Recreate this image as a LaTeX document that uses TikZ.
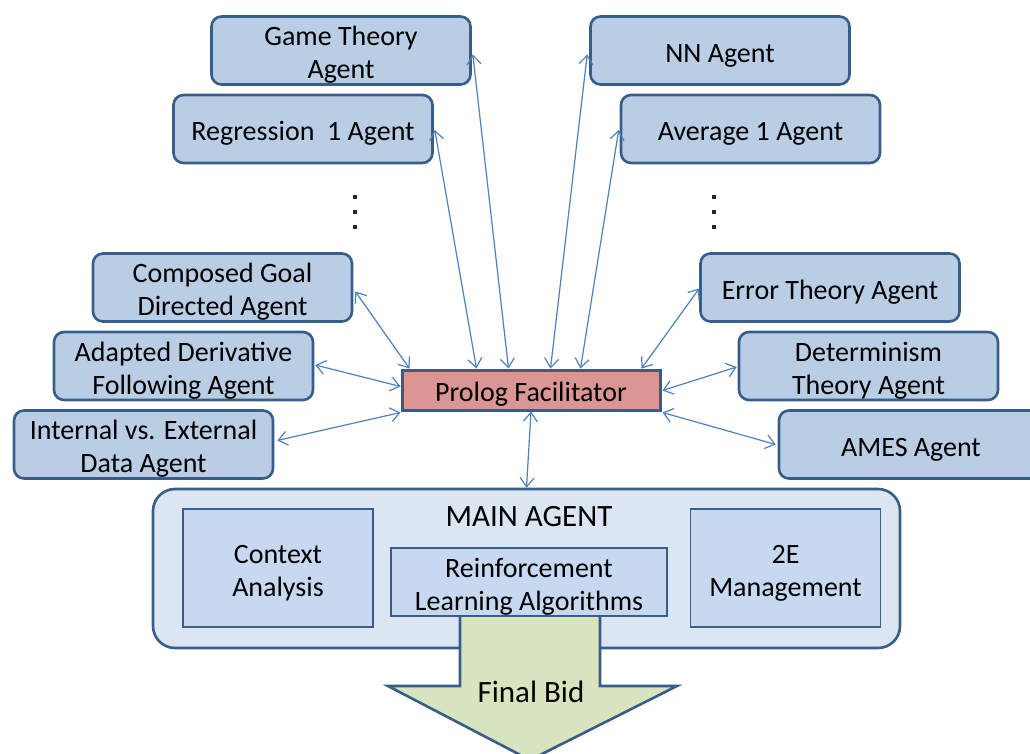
\documentclass[tikz,border=0pt]{standalone}
\usepackage{fontspec}
\setmainfont{Carlito}
\usetikzlibrary{arrows.meta,calc,positioning}
\definecolor{edgeblue}{RGB}{56,93,138}
\definecolor{agentfill}{RGB}{185,205,229}
\definecolor{mainfill}{RGB}{220,230,242}
\definecolor{innerfill}{RGB}{198,217,241}
\definecolor{prologfill}{RGB}{217,150,148}
\definecolor{linkblue}{RGB}{79,129,189}
\definecolor{bidfill}{RGB}{215,228,189}
% centred block of lines, drawn a little below its nominal box
\newcommand{\boxtext}[1]{\raisebox{-5pt}[\height][\depth]{\begin{tabular}{@{}c@{}}#1\end{tabular}}}
\tikzset{
  agent/.style={draw=edgeblue, fill=agentfill, line width=2.6pt, rounded corners=10pt,
    minimum width=259pt, minimum height=68pt, inner sep=0pt,
    font=\fontsize{28}{33}\selectfont},
  inner/.style={draw=edgeblue, fill=innerfill, line width=1.6pt, inner sep=0pt,
    font=\fontsize{28}{33}\selectfont},
  biglabel/.style={font=\fontsize{31}{36}\selectfont, inner sep=0pt},
  link/.style={draw=linkblue, line width=1.2pt,
    {Straight Barb[length=9pt,width=14pt,line width=1.2pt]}-{Straight Barb[length=9pt,width=14pt,line width=1.2pt]}},
  dotmark/.style={fill=black!85, minimum size=3.2pt, inner sep=0pt, shape=rectangle}
}
\begin{document}
\begin{tikzpicture}[x=1pt,y=-1pt]
\clip (0,0) rectangle (1030,754);
\fill[white] (0,0) rectangle (1030,754);

% agents, left column
\node[agent] (game) at (341,50.5) {\boxtext{Game Theory\\Agent}};
\node[agent] (regr) at (303,129) {\boxtext{Regression\ \ 1 Agent}};
\node[agent] (comp) at (222.5,287.5) {\boxtext{Composed Goal\\Directed Agent}};
\node[agent] (adap) at (183.5,366) {\boxtext{Adapted Derivative\\Following Agent}};
\node[agent] (intl) at (143.5,444.5) {\boxtext{Internal vs. External\\Data Agent}};

% agents, right column
\node[agent] (nn)   at (720,50.5) {\boxtext{NN Agent}};
\node[agent] (avg)  at (750.5,129) {\boxtext{Average 1 Agent}};
\node[agent] (err)  at (830,287.5) {\boxtext{Error Theory Agent}};
\node[agent] (det)  at (868.5,366) {\boxtext{Determinism\\Theory Agent}};
\node[agent, minimum width=264pt] (ames) at (911,444.5) {\boxtext{AMES Agent}};

% vertical ellipses
\foreach \y [count=\i] in {197,212,227} {
  \node[dotmark] (ldot\i) at (355,\y) {};
  \node[dotmark] (rdot\i) at (714,\y) {};
}

% facilitator
\node[draw=edgeblue, fill=prologfill, line width=3pt, minimum width=258pt, minimum height=40pt,
  inner sep=0pt, font=\fontsize{28}{33}\selectfont] (pf) at (531,390) {\boxtext{Prolog Facilitator}};

% main agent container
\node[draw=edgeblue, fill=mainfill, line width=2.6pt, rounded corners=22pt,
  minimum width=747pt, minimum height=159pt, inner sep=0pt] (main) at (526.5,568.5) {};
\node[biglabel] (mainlbl) at (529,517) {MAIN AGENT};

% final bid arrow
\path[draw=edgeblue, fill=bidfill, line width=2.6pt, line join=miter]
  (460,610) -- (600,610) -- (600,686) -- (677,686) -- (530,760)
  -- (388,686) -- (460,686) -- cycle;
\node[biglabel] (bid) at (531,692) {Final Bid};

% main agent parts
\node[inner, minimum width=190pt, minimum height=118pt] (ctx) at (278,568) {\boxtext{Context\\Analysis}};
\node[inner, minimum width=190pt, minimum height=118pt] (mgmt) at (785.5,568) {\boxtext{2E\\Management}};
\node[inner, minimum width=276pt, minimum height=68pt] (rl) at (529,582) {\boxtext{Reinforcement\\Learning Algorithms}};

% links to the facilitator
\draw[link] ($(game.east)+(1,4)$)   -- ($(pf.north west)+(108,0)$);
\draw[link] ($(regr.east)+(1,1)$)   -- ($(pf.north west)+(76,0)$);
\draw[link] ($(comp.east)+(2,4)$)   -- ($(pf.north west)+(9,0)$);
\draw[link] ($(adap.east)+(1,-1)$)  -- ($(pf.north west)+(0,18)$);
\draw[link] ($(intl.east)+(3,-4)$)  -- ($(pf.south west)+(0,1)$);
\draw[link] ($(nn.west)+(-2,4)$)    -- ($(pf.north west)+(150,0)$);
\draw[link] ($(avg.west)+(-1,1)$)   -- ($(pf.north west)+(180,0)$);
\draw[link] ($(err.west)+(0,1)$)    -- ($(pf.north west)+(241,0)$);
\draw[link] ($(det.west)+(-1,1)$)   -- ($(pf.north east)+(1,22)$);
\draw[link] ($(ames.west)+(-2,0)$)  -- ($(pf.south east)+(1,1)$);
\draw[link] (pf.south) -- (main.north);
\end{tikzpicture}
\end{document}
